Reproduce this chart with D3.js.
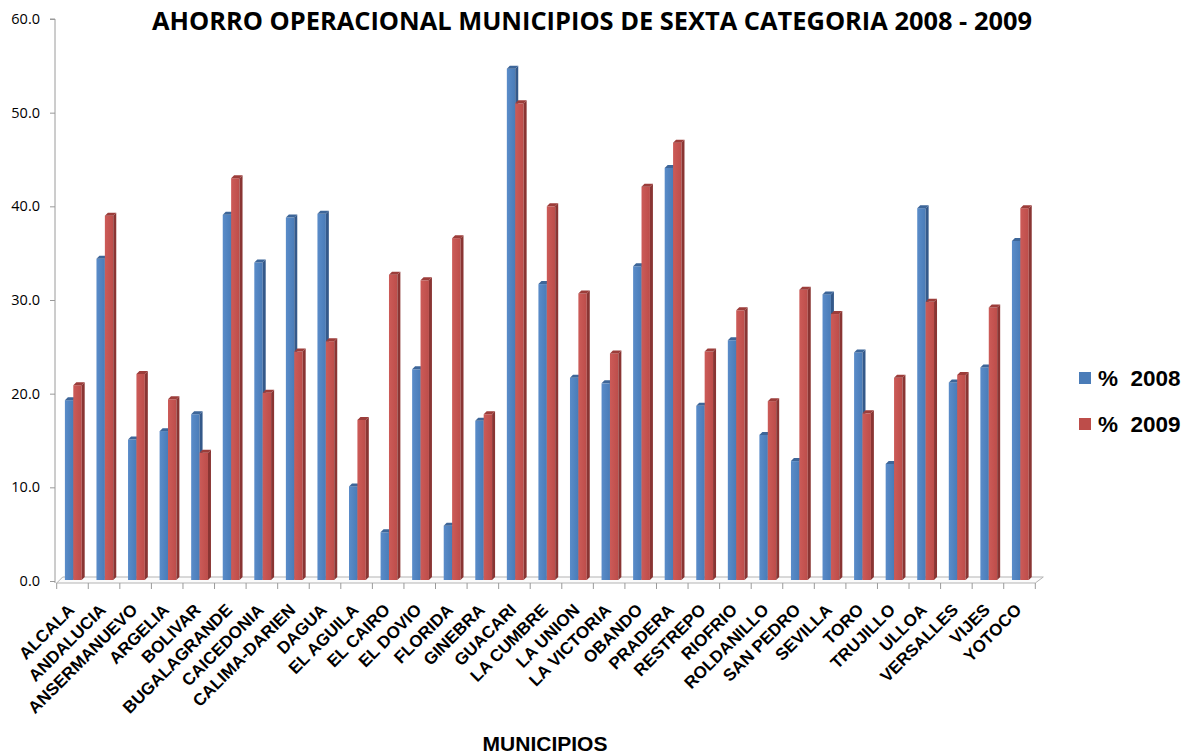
<!DOCTYPE html>
<html>
<head>
<meta charset="utf-8">
<script src="https://cdn.jsdelivr.net/npm/d3@7"></script>
<style>
  html, body { margin: 0; padding: 0; background: #ffffff; }
  svg { display: block; }
</style>
</head>
<body>
<svg id="chart" width="1191" height="756"></svg>
<script>
const categories = ["ALCALA","ANDALUCIA","ANSERMANUEVO","ARGELIA","BOLIVAR","BUGALAGRANDE","CAICEDONIA","CALIMA-DARIEN","DAGUA","EL AGUILA","EL CAIRO","EL DOVIO","FLORIDA","GINEBRA","GUACARI","LA CUMBRE","LA UNION","LA VICTORIA","OBANDO","PRADERA","RESTREPO","RIOFRIO","ROLDANILLO","SAN PEDRO","SEVILLA","TORO","TRUJILLO","ULLOA","VERSALLES","VIJES","YOTOCO"];
const pct2008 = [19.3,34.4,15.1,16.0,17.8,39.1,34.0,38.8,39.2,10.1,5.2,22.6,5.9,17.1,54.7,31.7,21.7,21.1,33.6,44.1,18.7,25.7,15.6,12.8,30.6,24.4,12.5,39.8,21.2,22.8,36.3];
const pct2009 = [20.9,39.0,22.1,19.4,13.7,43.0,20.1,24.5,25.6,17.2,32.7,32.1,36.6,17.8,51.0,40.0,30.7,24.3,42.1,46.8,24.5,28.9,19.2,31.1,28.5,17.9,21.7,29.8,22.0,29.2,39.8];
const seriesNames = ["% 2008", "% 2009"];
const yTicks = [0,10,20,30,40,50,60];
const titleText = "AHORRO OPERACIONAL MUNICIPIOS DE SEXTA CATEGORIA 2008 - 2009";
const xTitle = "MUNICIPIOS";

const svg = d3.select("#chart");
const defs = svg.append("defs");

const palette = [
  {front: ["#5a8cc9", "#4a7cb8"], side: "#34598a", top: "#3d6699"},
  {front: ["#cc5b58", "#bd4d4a"], side: "#8a3533", top: "#9c3d3a"}
];
palette.forEach((p, i) => {
  const g = defs.append("linearGradient").attr("id", "grad" + i)
    .attr("x1", "0%").attr("x2", "100%").attr("y1", "0%").attr("y2", "0%");
  g.append("stop").attr("offset", "0%").attr("stop-color", p.front[0]);
  g.append("stop").attr("offset", "100%").attr("stop-color", p.front[1]);
});

const y = d3.scaleLinear().domain([0, 60]).range([581, 19]);
const x = d3.scaleBand().domain(categories).range([56.7, 1035.3]).padding(0);
const xs = d3.scaleBand().domain(seriesNames).range([8.2, 25]).padding(0);
const depth = 3;

// Floor
const floorFront = 583, floorBack = 577;
svg.append("path")
  .attr("d", `M${x.range()[0]},${floorFront} L${x.range()[1]},${floorFront} L${x.range()[1] + 8},${floorBack} L${x.range()[0] + 6},${floorBack} Z`)
  .attr("fill", "#fbfbfb").attr("stroke", "#b3b3b3").attr("stroke-width", 1);

// X ticks
const tickXs = categories.map(c => x(c)).concat([x.range()[1]]);
svg.append("g").selectAll("line").data(tickXs).join("line")
  .attr("x1", d => d).attr("x2", d => d)
  .attr("y1", floorFront).attr("y2", floorFront + 6)
  .attr("stroke", "#9a9a9a").attr("stroke-width", 1);

// Y axis
const yAxis = d3.axisLeft(y).tickValues(yTicks).tickFormat(d3.format(".1f")).tickSize(5).tickPadding(10);
const ya = svg.append("g").attr("transform", "translate(55,0)").call(yAxis);
ya.select(".domain").attr("stroke", "#9a9a9a").attr("d", `M-5,${y(60)}H0V${floorFront}`);
ya.selectAll(".tick line").attr("stroke", "#9a9a9a");
ya.selectAll(".tick text")
  .attr("font-family", "'Open Sans', 'Noto Sans', sans-serif")
  .attr("font-size", 14.5).attr("fill", "#000");

// Bars
const series = [pct2008, pct2009];
const barsG = svg.append("g");
categories.forEach((c, ci) => {
  series.forEach((vals, si) => {
    const v = vals[ci];
    const xl = x(c) + xs(seriesNames[si]);
    const w = xs.bandwidth();
    const yt = y(v), yb = y(0) - 1;
    const p = palette[si];
    const g = barsG.append("g");
    g.append("rect").attr("x", xl).attr("y", yt).attr("width", w).attr("height", yb - yt)
      .attr("fill", `url(#grad${si})`);
    g.append("path")
      .attr("d", `M${xl + w},${yt} L${xl + w + depth},${yt - depth} L${xl + w + depth},${yb - depth} L${xl + w},${yb} Z`)
      .attr("fill", p.side);
    g.append("path")
      .attr("d", `M${xl},${yt} L${xl + depth},${yt - depth} L${xl + w + depth},${yt - depth} L${xl + w},${yt} Z`)
      .attr("fill", p.top);
  });
});

// X labels
svg.append("g").selectAll("text").data(categories).join("text")
  .attr("transform", d => `translate(${x(d) + x.bandwidth() / 2 + 3},${611}) rotate(-45)`)
  .attr("text-anchor", "end")
  .attr("font-family", "'Liberation Sans', Arial, sans-serif")
  .attr("font-weight", "bold")
  .attr("font-size", 17)
  .attr("fill", "#000")
  .text(d => d);

// Title
svg.append("text")
  .attr("x", 152).attr("y", 30)
  .attr("textLength", 880).attr("lengthAdjust", "spacingAndGlyphs")
  .attr("font-family", "'Open Sans', 'Noto Sans', sans-serif")
  .attr("font-weight", "bold").attr("font-size", 24.5).attr("fill", "#000")
  .text(titleText);

// X axis title
svg.append("text")
  .attr("x", 545).attr("y", 751).attr("text-anchor", "middle")
  .attr("font-family", "'Liberation Sans', Arial, sans-serif")
  .attr("font-weight", "bold").attr("font-size", 21).attr("fill", "#000")
  .text(xTitle);

// Legend
const legend = svg.append("g");
const legY = [377, 423];
seriesNames.forEach((s, i) => {
  legend.append("rect").attr("x", 1079).attr("y", legY[i] - 5).attr("width", 12).attr("height", 12)
    .attr("fill", palette[i].front[1]);
  legend.append("text").attr("x", 1098).attr("y", legY[i] + 9)
    .attr("font-family", "'Liberation Sans', Arial, sans-serif")
    .attr("font-weight", "bold").attr("font-size", 22.5).attr("fill", "#000")
    .style("white-space", "pre")
    .text(s.replace(" ", "  "));
});
</script>
</body>
</html>
